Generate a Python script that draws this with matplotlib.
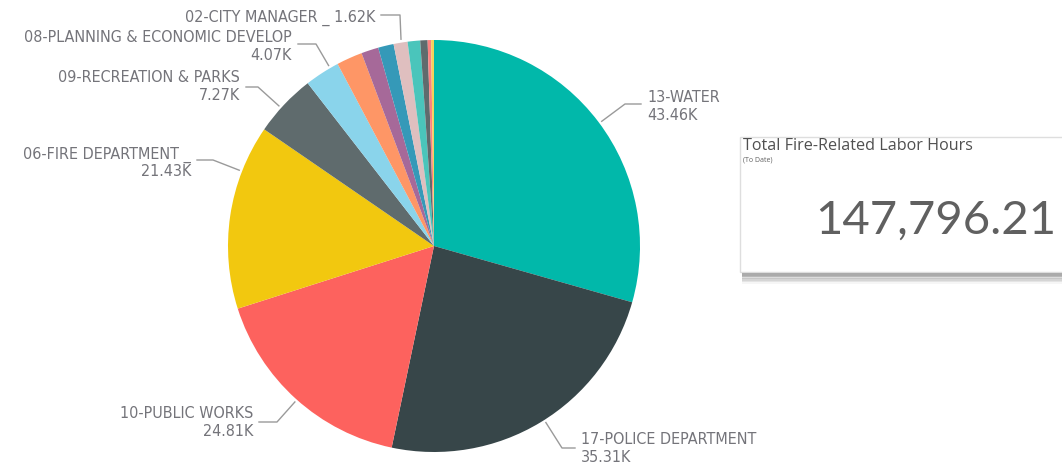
import numpy as np
import matplotlib
matplotlib.use("Agg")
import matplotlib.pyplot as plt
from matplotlib.patches import Rectangle

# DATOS (horas de trabajo por departamento, orden de Power BI: mayor a menor)
departments = ["13-WATER", "17-POLICE DEPARTMENT", "10-PUBLIC WORKS", "06-FIRE DEPARTMENT",
               "09-RECREATION & PARKS", "08-PLANNING & ECONOMIC DEVELOP", "Dept A", "Dept B",
               "Dept C", "02-CITY MANAGER", "Dept D", "Dept E", "Dept F", "Dept G"]
hours = [43460, 35310, 24810, 21430, 7270, 4070, 3000, 2000, 1800, 1620, 1450, 850, 400, 330]
colors = ["#01B8AA", "#374649", "#FD625E", "#F2C80F", "#5F6B6D", "#8AD4EB", "#FE9666",
          "#A66999", "#3599B8", "#DFBFBF", "#4AC5BB", "#5F6B6D", "#FB8281", "#F4D25A"]
total_hours = 147796.21

# etiquetas mostradas: indice -> (x texto, y nombre, alineacion, codo de la linea, y valor)
label_layout = {
    0: (647, 98, "left", (625, 104), 116),
    1: (581, 440, "left", (562, 448), 458),
    2: (253, 413, "right", (277, 422), 432),
    3: (191, 155, "right", (213, 160), 172),
    4: (240, 78, "right", (258, 87), 96),
    5: (292, 37, "right", (316, 44), 55),
    9: (375, 18, "right", (400, 15), None),
}
with_dash = [3, 9]

cx, cy, R = 434, 246, 206
W, H = 1062, 466

fig = plt.figure(figsize=(W / 100, H / 100), dpi=100)
fig.patch.set_facecolor("white")
ax = fig.add_axes([0, 0, 1, 1])

# eje y invertido: startangle=-90 es arriba y counterclock=True gira en sentido horario
ax.pie(hours, colors=colors, startangle=-90, counterclock=True, center=(cx, cy), radius=R,
       wedgeprops=dict(linewidth=0))
ax.set_xlim(0, W)
ax.set_ylim(H, 0)
ax.set_aspect("equal")
ax.axis("off")

txt = dict(color="#74747a", fontsize=11.5, family="DejaVu Sans", fontstretch="condensed")
for i, (tx, ty, ha, elbow, vy) in label_layout.items():
    name = departments[i]
    val = f"{hours[i] / 1000:.2f}K"
    if i in with_dash:
        name = name + " _"
    if vy is None:
        ax.text(tx, ty, name + " " + val, ha=ha, va="center", **txt)
    else:
        ax.text(tx, ty, name, ha=ha, va="center", **txt)
        ax.text(tx, vy, val, ha=ha, va="center", **txt)
    # linea guia: horizontal junto al texto y luego hacia el borde del pastel
    ex, ey = elbow
    d = np.hypot(ex - cx, ey - cy)
    sx = cx + (R + 3) * (ex - cx) / d
    sy = cy + (R + 3) * (ey - cy) / d
    hx = tx + 6 if ha == "right" else tx - 6
    if i == 9:
        ax.plot([hx, ex, ex + 1], [ey, ey, sy], color="#9a9a9a", lw=1)
    else:
        ax.plot([hx, ex, sx], [ey, ey, sy], color="#9a9a9a", lw=1)

# tarjeta con el total
for k in range(9):
    ax.add_patch(Rectangle((742, 268 + k * 1.6), 330, 3, color="#505050",
                           alpha=0.45 * (1 - k / 9), lw=0))
ax.add_patch(Rectangle((740, 137), 330, 135, facecolor="white", edgecolor="#dedede", lw=1))
ax.text(743, 146, "Total Fire-Related Labor Hours", fontsize=11.6, color="#505050",
        family="Open Sans", va="center", ha="left")
ax.text(743, 160, "(To Date)", fontsize=5, color="#606060", family="Open Sans",
        va="center", ha="left")
ax.text(1056, 221, f"{total_hours:,.2f}", fontsize=34, color="#606060", family="Lato",
        va="center", ha="right")

plt.savefig("out.png", dpi=100)
